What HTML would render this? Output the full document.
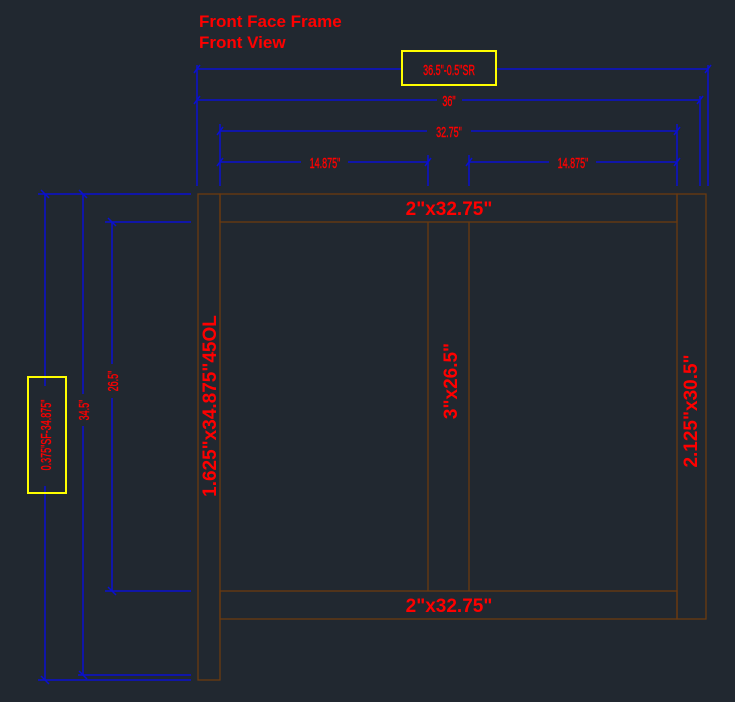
<!DOCTYPE html>
<html><head><style>
html,body{margin:0;padding:0;background:#212830;}
svg{display:block}
text{font-family:"Liberation Sans",sans-serif;fill:#ff0000;}
</style></head><body>
<svg width="735" height="702" viewBox="0 0 735 702" xmlns="http://www.w3.org/2000/svg">
<rect width="735" height="702" fill="#212830"/>
<text x="199" y="27" font-size="17" font-weight="bold">Front Face Frame</text>
<text x="199" y="48" font-size="17" font-weight="bold">Front View</text>
<g stroke="#0a10d0" stroke-width="1.5" fill="none">
<line x1="197" y1="69" x2="403" y2="69"/><line x1="495" y1="69" x2="708" y2="69"/>
<line x1="197" y1="65" x2="197" y2="186"/><line x1="708" y1="65" x2="708" y2="186"/>
<line x1="197" y1="100" x2="437" y2="100"/><line x1="462" y1="100" x2="700" y2="100"/>
<line x1="700" y1="96" x2="700" y2="186"/>
<line x1="220" y1="131" x2="427" y2="131"/><line x1="471" y1="131" x2="677" y2="131"/>
<line x1="220" y1="124" x2="220" y2="186"/><line x1="677" y1="124" x2="677" y2="186"/>
<line x1="220" y1="162" x2="301" y2="162"/><line x1="348" y1="162" x2="428" y2="162"/>
<line x1="469" y1="162" x2="549" y2="162"/><line x1="596" y1="162" x2="677" y2="162"/>
<line x1="428" y1="155" x2="428" y2="186"/><line x1="469" y1="155" x2="469" y2="186"/>
<line x1="38" y1="194" x2="191" y2="194"/><line x1="38" y1="680" x2="191" y2="680"/>
<line x1="78" y1="675" x2="191" y2="675"/>
<line x1="105" y1="222" x2="191" y2="222"/><line x1="105" y1="591" x2="191" y2="591"/>
<line x1="45" y1="194" x2="45" y2="386"/><line x1="45" y1="486" x2="45" y2="680"/>
<line x1="83" y1="194" x2="83" y2="394"/><line x1="83" y1="426" x2="83" y2="675"/>
<line x1="112" y1="222" x2="112" y2="364"/><line x1="112" y1="398" x2="112" y2="591"/>
<line x1="194" y1="73" x2="200" y2="65"/><line x1="705" y1="73" x2="711" y2="65"/>
<line x1="194" y1="104" x2="200" y2="96"/><line x1="697" y1="104" x2="703" y2="96"/>
<line x1="217" y1="135" x2="223" y2="127"/><line x1="674" y1="135" x2="680" y2="127"/>
<line x1="217" y1="166" x2="223" y2="158"/><line x1="425" y1="166" x2="431" y2="158"/>
<line x1="466" y1="166" x2="472" y2="158"/><line x1="674" y1="166" x2="680" y2="158"/>
<line x1="41" y1="190" x2="49" y2="198"/><line x1="41" y1="676" x2="49" y2="684"/>
<line x1="79" y1="190" x2="87" y2="198"/><line x1="79" y1="671" x2="87" y2="679"/>
<line x1="108" y1="218" x2="116" y2="226"/><line x1="108" y1="587" x2="116" y2="595"/>
</g>
<g stroke="#6b3a10" stroke-width="1.3" fill="none">
<rect x="198" y="194" width="22" height="486"/>
<rect x="220" y="194" width="457" height="28"/>
<rect x="677" y="194" width="29" height="425"/>
<rect x="220" y="591" width="457" height="28"/>
<line x1="428" y1="222" x2="428" y2="591"/><line x1="469" y1="222" x2="469" y2="591"/>
</g>
<rect x="402" y="51" width="94" height="34" fill="none" stroke="#ffff00" stroke-width="2"/>
<rect x="28" y="377" width="38" height="116" fill="none" stroke="#ffff00" stroke-width="2"/>
<g font-size="15" text-anchor="middle" stroke="#ff0000" stroke-width="0.4">
<text transform="translate(449,75) scale(0.6,1)">36.5"-0.5"SR</text>
<text transform="translate(449,106) scale(0.6,1)">36"</text>
<text transform="translate(449,137) scale(0.6,1)">32.75"</text>
<text transform="translate(325,168) scale(0.6,1)">14.875"</text>
<text transform="translate(573,168) scale(0.6,1)">14.875"</text>
<text transform="translate(51,435) rotate(-90) scale(0.6,1)">0.375"SF-34.875"</text>
<text transform="translate(89,410) rotate(-90) scale(0.6,1)">34.5"</text>
<text transform="translate(118,381) rotate(-90) scale(0.6,1)">26.5"</text>
</g>
<g font-size="19" font-weight="bold" text-anchor="middle">
<text x="449" y="215">2"x32.75"</text>
<text x="449" y="612">2"x32.75"</text>
<text transform="translate(216,406) rotate(-90)">1.625"x34.875"45OL</text>
<text transform="translate(457,381) rotate(-90)">3"x26.5"</text>
<text transform="translate(697,411) rotate(-90)">2.125"x30.5"</text>
</g>
</svg>
</body></html>
